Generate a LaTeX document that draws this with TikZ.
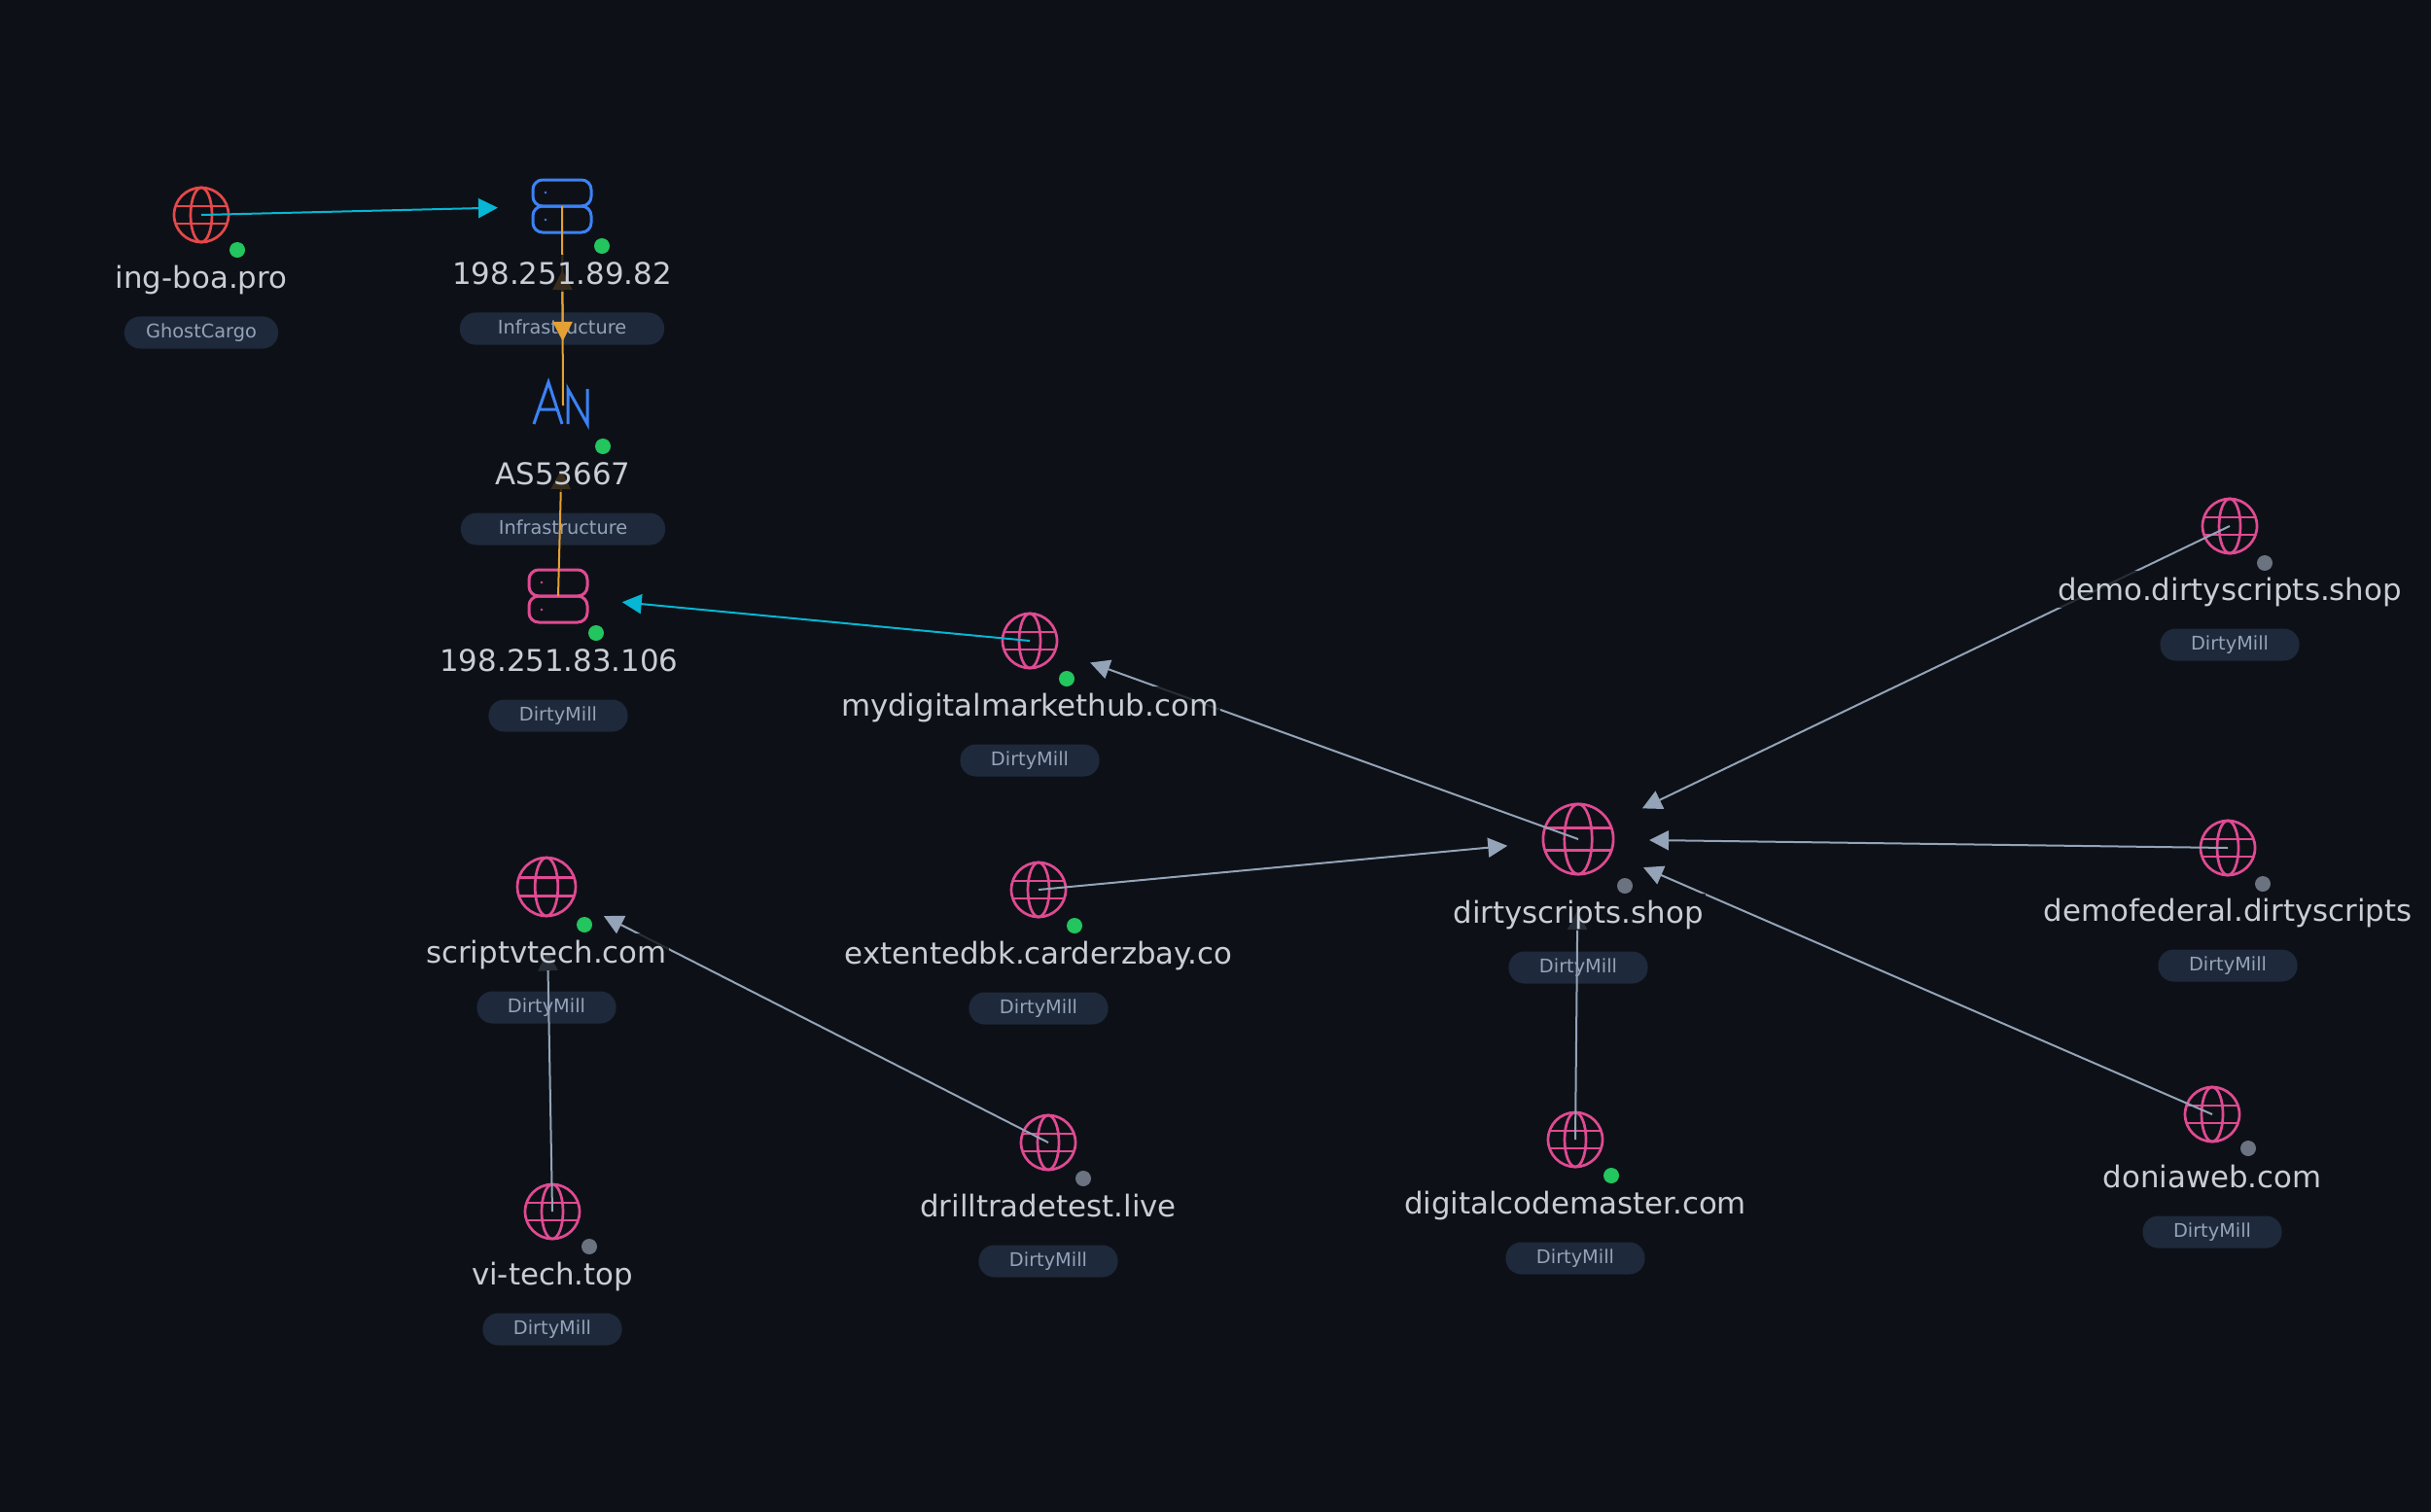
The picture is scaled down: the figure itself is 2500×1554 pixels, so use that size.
\documentclass[tikz,border=0pt]{standalone}
\usepackage{xcolor}
\usepackage{fontspec}
\setmainfont{DejaVu Sans}
\usepackage{tikz}
\usetikzlibrary{arrows.meta}

\definecolor{night}{HTML}{0D1117}
\definecolor{chip}{HTML}{1E293B}
\definecolor{slate}{HTML}{94A3B8}
\definecolor{ink}{HTML}{C9CED6}
\definecolor{redc}{HTML}{E5484A}
\definecolor{bluec}{HTML}{3B82F6}
\definecolor{pinkc}{HTML}{E04A92}
\definecolor{cyanc}{HTML}{06B6D4}
\definecolor{amberc}{HTML}{E5A033}
\definecolor{livec}{HTML}{22C55E}
\definecolor{idlec}{HTML}{6B7280}

\begin{document}
\begin{tikzpicture}[
x=.01cm,y=-.01cm,
>={Stealth[length=.2cm,width=.2cm,inset=0pt]},
hub/.style={inner sep=0pt,outer sep=0pt,minimum size=0pt},
caption/.style={font=\fontsize{8.77pt}{11pt}\selectfont,text=ink,fill=night,fill opacity=.8,text opacity=1,inner sep=.02cm,text height=.285cm,text depth=.06cm},
chiptag/.style={font=\fontsize{5.5pt}{7pt}\selectfont,text=slate,fill=chip,rounded corners=.16cm,inner sep=0pt,minimum width=1.43cm,minimum height=.33cm,text height=.16cm,text depth=.05cm,yshift=-.01cm},
live/.style={circle,fill=livec,inner sep=0pt,minimum size=.16cm},
idle/.style={circle,fill=idlec,inner sep=0pt,minimum size=.16cm},
link/.style={->,line width=.2mm,shorten >=.66cm},
intel/.style={link,slate},
far/.style={shorten >=.73cm},
pics/globe/.style={code={
\draw[line width=.27mm] (0,0) circle[radius=28];
\draw[line width=.27mm] (0,0) ellipse[x radius=11,y radius=28];
\draw[line width=.27mm] (-26,-9) -- (26,-9) (-26,9) -- (26,9);
}},
pics/server/.style={code={
\draw[line width=.3mm,rounded corners=.1cm] (-30,-27) rectangle (30,0);
\draw[line width=.3mm,rounded corners=.1cm] (-30,0) rectangle (30,27);
\fill (-17,-14) circle[radius=1.3] (-17,14) circle[radius=1.3];
}},
pics/asn/.style={code={
\draw[line width=.3mm] (-30,19) -- (-15,-24) -- (-1,19) (-25,4) -- (-5,4);
\draw[line width=.3mm] (5,19) -- (5,-17) -- (25,19) -- (25,-17);
}}
]

\useasboundingbox (0,0) rectangle (2500,1554);
\fill[night] (-5,-5) rectangle (2505,1559);

% Tags
\node[chiptag,minimum width=1.58cm] (ingboa-tag) at (207,341) {GhostCargo};
\node[chiptag,minimum width=2.1cm] (srvtop-tag) at (578,337) {Infrastructure};
\node[chiptag,minimum width=2.1cm] (asn-tag) at (579,543) {Infrastructure};
\node[chiptag] (srvlow-tag) at (574,735) {DirtyMill};
\node[chiptag] (mydigital-tag) at (1059,781) {DirtyMill};
\node[chiptag] (dirty-tag) at (1623,994) {DirtyMill};
\node[chiptag] (demo-tag) at (2293,662) {DirtyMill};
\node[chiptag] (federal-tag) at (2291,992) {DirtyMill};
\node[chiptag] (donia-tag) at (2275,1266) {DirtyMill};
\node[chiptag] (codemaster-tag) at (1620,1293) {DirtyMill};
\node[chiptag] (extented-tag) at (1068,1036) {DirtyMill};
\node[chiptag] (scriptv-tag) at (562,1035) {DirtyMill};
\node[chiptag] (drill-tag) at (1078,1296) {DirtyMill};
\node[chiptag] (vitech-tag) at (568,1366) {DirtyMill};

% Icons
\node[hub] (ingboa) at (207,221) {};
\node[hub] (srvtop) at (578,212) {};
\node[hub] (asn) at (579,417) {};
\node[hub] (srvlow) at (574,613) {};
\node[hub] (mydigital) at (1059,659) {};
\node[hub] (dirty) at (1623,863) {};
\node[hub] (demo) at (2293,541) {};
\node[hub] (federal) at (2291,872) {};
\node[hub] (donia) at (2275,1146) {};
\node[hub] (codemaster) at (1620,1172) {};
\node[hub] (extented) at (1068,915) {};
\node[hub] (scriptv) at (562,912) {};
\node[hub] (drill) at (1078,1175) {};
\node[hub] (vitech) at (568,1246) {};

\pic[redc] at (ingboa) {globe};
\pic[bluec] at (srvtop) {server};
\pic[bluec] at (asn) {asn};
\pic[pinkc] at (srvlow) {server};
\pic[pinkc] at (mydigital) {globe};
\pic[pinkc,scale=1.29] at (dirty) {globe};
\pic[pinkc] at (demo) {globe};
\pic[pinkc] at (federal) {globe};
\pic[pinkc] at (donia) {globe};
\pic[pinkc] at (codemaster) {globe};
\pic[pinkc] at (extented) {globe};
\pic[pinkc,scale=1.07] at (scriptv) {globe};
\pic[pinkc] at (drill) {globe};
\pic[pinkc] at (vitech) {globe};

% Connectors
\draw[link,cyanc] (ingboa) -- (srvtop);
\draw[link,amberc] (srvtop) -- (asn);
\draw[link,amberc] (asn) -- (srvtop);
\draw[link,amberc] (srvlow) -- (asn);
\draw[link,cyanc] (mydigital) -- (srvlow);
\draw[intel] (dirty) -- (mydigital);
\draw[intel,far] (extented) -- (dirty);
\draw[intel,far] (demo) -- (dirty);
\draw[intel,far] (federal) -- (dirty);
\draw[intel,far] (donia) -- (dirty);
\draw[intel,far] (codemaster) -- (dirty);
\draw[intel] (drill) -- (scriptv);
\draw[intel] (vitech) -- (scriptv);

% Status dots
\node[live] (ingboa-dot) at (244,257) {};
\node[live] (srvtop-dot) at (619,253) {};
\node[live] (asn-dot) at (620,459) {};
\node[live] (srvlow-dot) at (613,651) {};
\node[live] (mydigital-dot) at (1097,698) {};
\node[idle] (dirty-dot) at (1671,911) {};
\node[idle] (demo-dot) at (2329,579) {};
\node[idle] (federal-dot) at (2327,909) {};
\node[idle] (donia-dot) at (2312,1181) {};
\node[live] (codemaster-dot) at (1657,1209) {};
\node[live] (extented-dot) at (1105,952) {};
\node[live] (scriptv-dot) at (601,951) {};
\node[idle] (drill-dot) at (1114,1212) {};
\node[idle] (vitech-dot) at (606,1282) {};

% Labels
\node[caption] (ingboa-name) at (207,285) {ing-boa.pro};
\node[caption] (srvtop-name) at (578,281) {198.251.89.82};
\node[caption] (asn-name) at (579,487) {AS53667};
\node[caption] (srvlow-name) at (575,679) {198.251.83.106};
\node[caption] (mydigital-name) at (1059,725) {mydigitalmarkethub.com};
\node[caption] (dirty-name) at (1623,938) {dirtyscripts.shop};
\node[caption] (demo-name) at (2293,606) {demo.dirtyscripts.shop};
\node[caption] (federal-name) at (2291,936) {demofederal.dirtyscripts};
\node[caption] (donia-name) at (2275,1210) {doniaweb.com};
\node[caption] (codemaster-name) at (1620,1237) {digitalcodemaster.com};
\node[caption] (extented-name) at (1068,980) {extentedbk.carderzbay.co};
\node[caption] (scriptv-name) at (562,979) {scriptvtech.com};
\node[caption] (drill-name) at (1078,1240) {drilltradetest.live};
\node[caption] (vitech-name) at (568,1310) {vi-tech.top};

\end{tikzpicture}
\end{document}
